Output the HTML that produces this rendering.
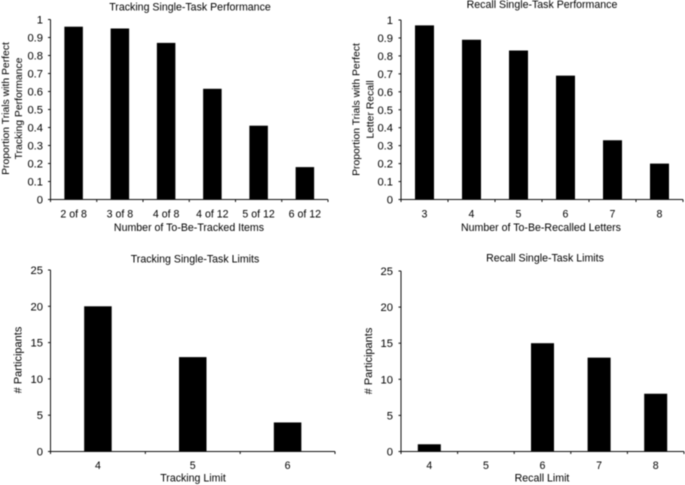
<!DOCTYPE html>
<html>
<head>
<meta charset="utf-8">
<style>
html,body{margin:0;padding:0;background:#fff;width:685px;height:485px;overflow:hidden}
svg{display:block;filter:blur(0.45px)}
text{font-family:"Liberation Sans",sans-serif;fill:#000}
</style>
</head>
<body>
<svg id="figure" width="685" height="485" viewBox="0 0 685 485" xmlns="http://www.w3.org/2000/svg"></svg>
<script>
const perfTicks = ['0','0.1','0.2','0.3','0.4','0.5','0.6','0.7','0.8','0.9','1'];
const limitTicks = ['0','5','10','15','20','25'];

const trackingPerfCategories = ['2 of 8','3 of 8','4 of 8','4 of 12','5 of 12','6 of 12'];
const trackingPerfValues = [0.96,0.95,0.87,0.615,0.41,0.18];

const recallPerfCategories = ['3','4','5','6','7','8'];
const recallPerfValues = [0.97,0.89,0.83,0.69,0.33,0.20];

const trackingLimitCategories = ['4','5','6'];
const trackingLimitValues = [20,13,4];

const recallLimitCategories = ['4','5','6','7','8'];
const recallLimitValues = [1,0,15,13,8];

const NS = 'http://www.w3.org/2000/svg';
const svg = document.getElementById('figure');

function add(parent, tag, attrs, txt) {
  const el = document.createElementNS(NS, tag);
  for (const k in attrs) el.setAttribute(k, attrs[k]);
  if (txt !== undefined) el.textContent = txt;
  parent.appendChild(el);
  return el;
}

function drawChart(c) {
  const g = add(svg, 'g', {});
  
  
  const yMax = parseFloat(c.ticks[c.ticks.length - 1]);
  const xScale = i => c.left + (c.right - c.left) * (i + 0.5) / c.categories.length;
  const yScale = v => c.bottom - (c.bottom - c.top) * v / yMax;

  c.values.forEach((v, i) => {
    const h = c.bottom - yScale(v);
    const bar = add(g, 'rect', {x: xScale(i) - c.barWidth / 2, y: yScale(v), width: c.barWidth, height: h, fill: '#000'});
    
    
  });

  const yAxis = add(g, 'line', {x1: c.left, y1: c.top, x2: c.left, y2: c.bottom, stroke: '#111', 'stroke-width': 1});
  
  
  const xAxis = add(g, 'line', {x1: c.left - 2, y1: c.bottom, x2: c.right, y2: c.bottom, stroke: '#111', 'stroke-width': 1});
  
  

  c.ticks.forEach(t => {
    const y = yScale(parseFloat(t));
    const tick = add(g, 'line', {x1: c.left - 2.5, y1: y, x2: c.left, y2: y, stroke: '#111', 'stroke-width': 1});
    
    
    const lab = add(g, 'text', {x: c.left - c.tickGap, y: y + 4, 'text-anchor': 'end', 'font-size': 11.2}, t);
    
    
  });

  for (let i = 0; i <= c.categories.length; i++) {
    const x = c.left + (c.right - c.left) * i / c.categories.length;
    const tick = add(g, 'line', {x1: x, y1: c.bottom, x2: x, y2: c.bottom + 2.5, stroke: '#111', 'stroke-width': 1});
    
    
  }

  c.categories.forEach((cat, i) => {
    const lab = add(g, 'text', {x: xScale(i), y: c.labelY, 'text-anchor': 'middle', 'font-size': 10.6}, cat);
    
    
  });

  const title = add(g, 'text', {x: c.titleX, y: c.titleY, 'text-anchor': 'middle', 'font-size': 10.6}, c.title);
  
  

  const xTitle = add(g, 'text', {x: c.xTitleX, y: c.xTitleY, 'text-anchor': 'middle', 'font-size': 10.6}, c.xTitle);
  
  

  c.yTitle.forEach((line, i) => {
    const x = c.yTitleX + i * c.yTitleGap;
    const yt = add(g, 'text', {x: x, y: c.yTitleY, 'text-anchor': 'middle', 'font-size': c.yTitleSize, transform: 'rotate(-90 ' + x + ' ' + c.yTitleY + ')'}, line);
    
    
  });
}

drawChart({
  name: 'tracking-performance-chart', title: 'Tracking Single-Task Performance',
  categories: trackingPerfCategories, values: trackingPerfValues, ticks: perfTicks,
  left: 50.5, right: 328, top: 19.5, bottom: 199.5, barWidth: 18.5, tickGap: 7.5, labelY: 217.3,
  titleX: 190, titleY: 10.5, xTitle: 'Number of To-Be-Tracked Items', xTitleX: 189, xTitleY: 231,
  yTitle: ['Proportion Trials with Perfect', 'Tracking Performance'], yTitleX: 9, yTitleGap: 13, yTitleSize: 10.4, yTitleY: 108.5
});
drawChart({
  name: 'recall-performance-chart', title: 'Recall Single-Task Performance',
  categories: recallPerfCategories, values: recallPerfValues, ticks: perfTicks,
  left: 401, right: 683, top: 20, bottom: 199.5, barWidth: 19, tickGap: 8, labelY: 217.3,
  titleX: 542, titleY: 8, xTitle: 'Number of To-Be-Recalled Letters', xTitleX: 541, xTitleY: 231,
  yTitle: ['Proportion Trials with Perfect', 'Letter Recall'], yTitleX: 359.5, yTitleGap: 14, yTitleSize: 10.4, yTitleY: 109.5
});
drawChart({
  name: 'tracking-limits-chart', title: 'Tracking Single-Task Limits',
  categories: trackingLimitCategories, values: trackingLimitValues, ticks: limitTicks,
  left: 50.5, right: 335, top: 270, bottom: 451.5, barWidth: 27.5, tickGap: 7.5, labelY: 469,
  titleX: 195, titleY: 262.5, xTitle: 'Tracking Limit', xTitleX: 193, xTitleY: 481.5,
  yTitle: ['# Participants'], yTitleX: 21.5, yTitleGap: 13, yTitleSize: 11, yTitleY: 360
});
drawChart({
  name: 'recall-limits-chart', title: 'Recall Single-Task Limits',
  categories: recallLimitCategories, values: recallLimitValues, ticks: limitTicks,
  left: 401, right: 684, top: 271, bottom: 451.5, barWidth: 23, tickGap: 8, labelY: 469,
  titleX: 545, titleY: 261.5, xTitle: 'Recall Limit', xTitleX: 542, xTitleY: 481.5,
  yTitle: ['# Participants'], yTitleX: 372, yTitleGap: 13, yTitleSize: 11, yTitleY: 361
});
</script>
</body>
</html>
